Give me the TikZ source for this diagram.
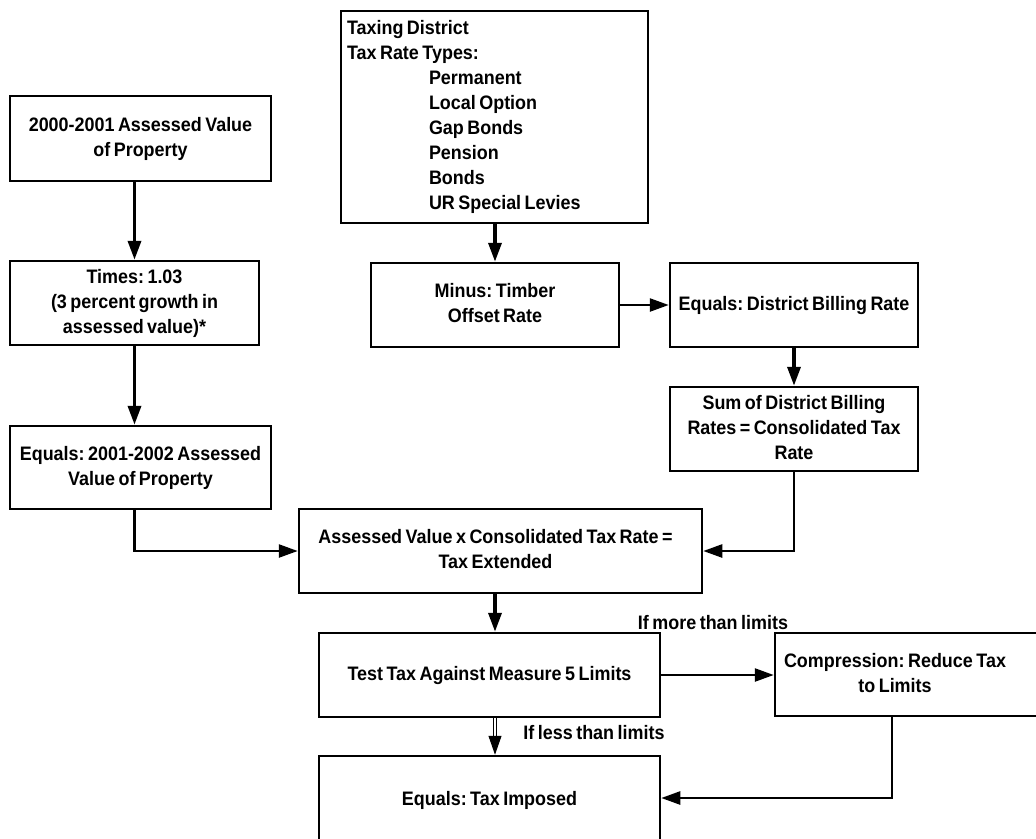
\documentclass[tikz,border=0pt]{standalone}
\usepackage{fontspec}
\setmainfont{Liberation Sans}[FakeStretch=0.92, WordSpace=0.7]
\usetikzlibrary{arrows.meta}
\begin{document}
\begin{tikzpicture}[x=1pt,y=-1pt,
  font=\fontsize{19.5}{25}\selectfont\bfseries\frenchspacing,
  box/.style={draw, line width=2.5pt, inner sep=3pt},
  thick arr/.style={line width=3.5pt, -{Triangle[length=19pt,width=13pt]}},
  thin arr/.style={line width=2.5pt, -{Triangle[length=19pt,width=13pt]}},
  lbl/.style={inner sep=0pt}]
\newcommand\cc[1]{\begin{tabular}{@{}c@{}}#1\end{tabular}}
\useasboundingbox (0,0) rectangle (1036,838);
\clip (0,0) rectangle (1036,838);
% boxes
\node[box, minimum width=261pt, minimum height=85pt] (A) at (140.5,138.5)
  {\cc{2000-2001 Assessed Value\\of Property}};
\node[box, minimum width=249pt, minimum height=84pt] (B) at (134.5,303)
  {\cc{Times: 1.03\\(3 percent growth in\\assessed value)*}};
\node[box, minimum width=261pt, minimum height=83pt] (C) at (140.5,467.5)
  {\cc{Equals: 2001-2002 Assessed\\Value of Property}};
\node[box, minimum width=403pt, minimum height=84pt] (D) at (500.5,551)
  {\cc{Assessed Value x Consolidated Tax Rate =\\Tax Extended}\hspace*{10pt}};
\node[box, minimum width=341pt, minimum height=84pt] (E) at (489.5,675)
  {Test Tax Against Measure 5 Limits};
\node[box, minimum width=341pt, minimum height=88pt] (F) at (489.5,800)
  {Equals: Tax Imposed};
\node[box, minimum width=270pt, minimum height=83pt] (G) at (910,674.5)
  {\cc{Compression: Reduce Tax\\to Limits}\hspace*{30pt}};
\node[box, minimum height=212pt, text width=295pt, align=flush left, inner xsep=6pt] (H) at (494.5,117)
  {Taxing District\\Tax Rate Types:\\\hspace*{82pt}Permanent\\\hspace*{82pt}Local Option\\\hspace*{82pt}Gap Bonds\\\hspace*{82pt}Pension\\\hspace*{82pt}Bonds\\\hspace*{82pt}UR Special Levies};
\node[box, minimum width=248pt, minimum height=84pt] (I) at (495,305)
  {\cc{Minus: Timber\\Offset Rate}};
\node[box, minimum width=248pt, minimum height=84pt] (J) at (794,305)
  {Equals: District Billing Rate};
\node[box, minimum width=248pt, minimum height=84pt] (K) at (794,429)
  {\cc{Sum of District Billing\\Rates = Consolidated Tax\\Rate}};
% helper coordinates
\coordinate (gf) at (892,798);
\coordinate (mid) at (495,0);
% labels
\node[lbl] (more) at (713,623) {If more than limits};
\node[lbl] (less) at (594,733) {If less than limits};
% connectors
\draw[thick arr] (A.south -| B.north) -- (B.north);
\draw[thick arr] (B.south) -- (B.south |- C.north);
\draw[thin arr] (B.south |- C.south) |- (D.west);
\draw[thick arr] (H.south -| I.north) -- (I.north);
\draw[thin arr] (I.east) -- (J.west);
\draw[thick arr] (J.south -| K.north) -- (K.north);
\draw[thin arr] (K.south) |- (D.east);
\draw[thick arr] (D.south -| mid) -- (E.north -| mid);
\draw[thin arr] (E.east) -- (G.west |- E.east);
\draw[line width=1pt, double distance=2.5pt] (E.south -| mid) -- ([yshift=17pt]F.north -| mid);
\draw[line width=1pt, -{Triangle[length=19pt,width=13pt]}] ([yshift=19pt]F.north -| mid) -- (F.north -| mid);
\draw[thin arr] (G.south -| gf) |- (F.east |- gf);
\end{tikzpicture}
\end{document}
